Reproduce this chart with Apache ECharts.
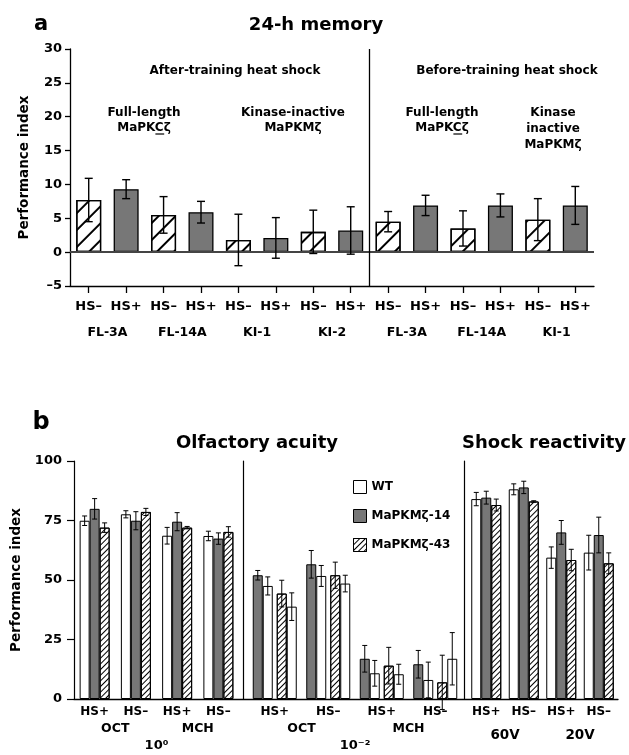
<!DOCTYPE html>
<html><head><meta charset="utf-8">
<script src="https://cdn.jsdelivr.net/npm/echarts/dist/echarts.min.js"></script>
<style>html,body{margin:0;padding:0;background:#fff}#c{width:629px;height:755px}</style>
</head><body><div id="c"></div>
<script>
// ---------- Panel a data ----------
const aConds  = ['HS–','HS+','HS–','HS+','HS–','HS+','HS–','HS+','HS–','HS+','HS–','HS+','HS–','HS+'];
const aGroups = ['FL-3A','FL-14A','KI-1','KI-2','FL-3A','FL-14A','KI-1'];
const aTiming = ['after','after','after','after','before','before','before'];
const aMeans  = [7.7, 9.3, 5.5, 5.9, 1.8, 2.1, 3.0, 3.2, 4.5, 6.9, 3.5, 6.9, 4.8, 6.9];
const aErrs   = [3.2, 1.4, 2.7, 1.6, 3.8, 3.0, 3.2, 3.5, 1.5, 1.5, 2.6, 1.7, 3.1, 2.8];

// ---------- Panel b data ----------
const bSeriesNames = ['WT','MaPKMζ-14','MaPKMζ-43'];
// 10^0 olfactory acuity
const b1Cats  = ['HS+','HS–','HS+','HS–'];
const b1Odors = ['OCT','MCH'];
const b1Conc  = ['10⁰'];
const b1WT    = [74.9, 77.6, 68.6, 68.5];
const b1WTe   = [2.0, 1.5, 3.5, 2.0];
const b1M14   = [79.9, 74.9, 74.5, 67.4];
const b1M14e  = [4.3, 3.8, 3.8, 2.4];
const b1M43   = [72.0, 78.6, 72.0, 70.2];
const b1M43e  = [2.0, 1.5, 0.5, 2.2];
// 10^-2 olfactory acuity (each line paired with its own WT control)
const b2Cats  = ['HS+','HS–','HS+','HS–'];
const b2Odors = ['OCT','MCH'];
const b2Conc  = ['10⁻²'];
const b2M14   = [52.0, 56.6, 16.9, 14.6];
const b2M14e  = [2.0, 5.8, 5.6, 5.8];
const b2WTa   = [47.5, 51.7, 10.8, 8.0];
const b2WTae  = [3.8, 4.4, 5.4, 7.5];
const b2M43   = [44.3, 52.0, 14.0, 7.0];
const b2M43e  = [5.6, 5.5, 7.7, 11.4];
const b2WTb   = [38.8, 48.5, 10.4, 16.9];
const b2WTbe  = [5.8, 3.5, 4.2, 11.0];
// shock reactivity
const b3Cats  = ['HS+','HS–','HS+','HS–'];
const b3Volts = ['60V','20V'];
const b3WT    = [84.0, 88.1, 59.4, 61.5];
const b3WTe   = [2.8, 2.3, 4.5, 7.3];
const b3M14   = [84.6, 88.9, 70.0, 68.9];
const b3M14e  = [2.7, 2.6, 5.0, 7.5];
const b3M43   = [81.5, 83.0, 58.4, 57.0];
const b3M43e  = [2.5, 0.3, 4.5, 4.4];

// ---------- styles ----------
const FONT = 'DejaVu Sans';
const GRAY = '#777777';
const hatchA = {symbol:'rect', symbolSize:1, color:'#000', dashArrayX:[1,0], dashArrayY:[1.4,9.2], rotation:-Math.PI/4};
const hatchB = {symbol:'rect', symbolSize:1, color:'#000', dashArrayX:[1,0], dashArrayY:[0.9,2.7], rotation:-Math.PI/4};
const styA = {
  'HS+': {color:GRAY, borderColor:'#000', borderWidth:1.3},
  'HS–': {color:'#fff', borderColor:'#000', borderWidth:1.3, decal:hatchA}
};
const styWT  = {color:'#fff', borderColor:'#000', borderWidth:1};
const sty14  = {color:GRAY, borderColor:'#000', borderWidth:1};
const sty43  = {color:'#fff', borderColor:'#000', borderWidth:1, decal:hatchB};
const lbl = (size, extra) => Object.assign({fontFamily:FONT, fontWeight:'bold', fontSize:size, color:'#000'}, extra||{});
const BW = 10;

function errSeries(xi, yi, means, errs, offset, cap, lw) {
  return {
    type:'custom', xAxisIndex:xi, yAxisIndex:yi, z:10, silent:true,
    data: means.map((m,i)=>[i, m, errs[i]]),
    renderItem(params, api) {
      const i = api.value(0), m = api.value(1), e = api.value(2);
      const top = api.coord([i, m + e]), bot = api.coord([i, m - e]);
      const x = top[0] + offset;
      const st = {stroke:'#000', lineWidth:lw, fill:null};
      return {type:'group', children:[
        {type:'line', shape:{x1:x, y1:top[1], x2:x, y2:bot[1]}, style:st},
        {type:'line', shape:{x1:x-cap, y1:top[1], x2:x+cap, y2:top[1]}, style:st},
        {type:'line', shape:{x1:x-cap, y1:bot[1], x2:x+cap, y2:bot[1]}, style:st}
      ]};
    }
  };
}
function barSeries(name, xi, yi, data, style, width) {
  return {type:'bar', name, xAxisIndex:xi, yAxisIndex:yi, data, barWidth:width||BW, barGap:'0%',
          itemStyle:style, silent:true, animation:false};
}
function catAxis(grid, data, size, margin, showLine, extra) {
  return Object.assign({
    type:'category', gridIndex:grid, data, position:'bottom',
    axisLine:{show:!!showLine, onZero:false, lineStyle:{color:'#000', width:1.3}},
    axisTick:{show:false}, splitLine:{show:false},
    axisLabel:Object.assign(lbl(size), {margin, interval:0})
  }, extra||{});
}
const hiddenY = (grid) => ({type:'value', gridIndex:grid, min:0, max:100, show:false});
const dividerY = (grid, off) => ({type:'value', gridIndex:grid, min:0, max:100, offset:off,
  axisLine:{show:true, lineStyle:{color:'#000', width:1.2}}, axisTick:{show:false},
  axisLabel:{show:false}, splitLine:{show:false}});

const afterCount = aTiming.filter(t => t === 'after').length * 2;

// measure text for underline
const mctx = document.createElement('canvas').getContext('2d');
mctx.font = 'bold 12px "' + FONT + '"';
function underlineC(cx, y) {
  const full = mctx.measureText('MaPKCζ').width;
  const pre = mctx.measureText('MaPK').width;
  const c = mctx.measureText('C').width;
  const x0 = cx - full/2 + pre;
  return {type:'line', shape:{x1:x0, y1:y, x2:x0 + c, y2:y}, style:{stroke:'#000', lineWidth:1.2}};
}
function txt(x, y, s, size) {
  return {type:'text', x, y, style:{text:s, fontFamily:FONT, fontWeight:'bold', fontSize:size, fill:'#000',
          textAlign:'center', textVerticalAlign:'middle'}};
}

const chart = echarts.init(document.getElementById('c'), null, {renderer:'canvas'});
const option = {
  animation:false,
  backgroundColor:'#fff',
  grid:[
    {left:70, top:49, width:524, height:237, containLabel:false},
    {left:74, top:461, width:544, height:238, containLabel:false},
    {left:74, top:461, width:165, height:238, containLabel:false},
    {left:248, top:461, width:214, height:238, containLabel:false},
    {left:467.5, top:461, width:150, height:238, containLabel:false}
  ],
  xAxis:[
    // 0: panel a conditions
    catAxis(0, aConds, 13, 14, true, {axisTick:{show:true, alignWithLabel:true, length:7, lineStyle:{color:'#000', width:1.3}}}),
    // 1: panel a groups
    catAxis(0, aGroups, 12.5, 40, false),
    // 2: panel a value helper for divider
    {type:'value', gridIndex:0, min:0, max:aConds.length, show:false, position:'top'},
    // 3: panel b frame baseline
    {type:'value', gridIndex:1, min:0, max:1, position:'bottom',
     axisLine:{show:true, onZero:false, lineStyle:{color:'#000', width:1.3}}, axisTick:{show:false},
     axisLabel:{show:false}, splitLine:{show:false}},
    // 4-6: 10^0
    catAxis(2, b1Cats, 12, 7, false),
    catAxis(2, b1Odors, 12.5, 23, false),
    catAxis(2, b1Conc, 13, 40, false),
    // 7-9: 10^-2
    catAxis(3, b2Cats, 12, 7, false),
    catAxis(3, b2Odors, 12.5, 23, false),
    catAxis(3, b2Conc, 13, 40, false),
    // 10-11: shock
    catAxis(4, b3Cats, 12, 7, false),
    catAxis(4, b3Volts, 13.5, 29, false)
  ],
  yAxis:[
    {type:'value', gridIndex:0, min:-5, max:30, interval:5,
     name:'Performance index', nameLocation:'middle', nameGap:39, nameRotate:90,
     nameTextStyle:lbl(13.5),
     axisLine:{show:true, onZero:false, lineStyle:{color:'#000', width:1.3}},
     axisTick:{show:true, length:5, lineStyle:{color:'#000', width:1.3}},
     axisLabel:Object.assign(lbl(13), {margin:8, formatter:v => v < 0 ? '–' + Math.abs(v) : String(v)}),
     splitLine:{show:false}},
    {type:'value', gridIndex:1, min:0, max:100, interval:25,
     name:'Performance index', nameLocation:'middle', nameGap:43, nameRotate:90,
     nameTextStyle:lbl(13.5),
     axisLine:{show:true, onZero:false, lineStyle:{color:'#000', width:1.2}},
     axisTick:{show:true, length:7, lineStyle:{color:'#000', width:1.2}},
     axisLabel:Object.assign(lbl(13), {margin:12}),
     splitLine:{show:false}},
    hiddenY(2),
    dividerY(3, 5),
    dividerY(4, 3.5)
  ],
  legend:{
    orient:'vertical', left:348, top:475, itemWidth:13, itemHeight:13, itemGap:15, icon:'rect',
    data:bSeriesNames, selectedMode:false,
    textStyle:lbl(12), itemStyle:{borderColor:'#000', borderWidth:1}
  },
  series:[
    // panel a bars
    {type:'bar', name:'24-h memory', xAxisIndex:0, yAxisIndex:0, barWidth:25, silent:true,
     data:aMeans.map((v,i)=>({value:v, itemStyle:styA[aConds[i]]})),
     markLine:{silent:true, symbol:'none', label:{show:false}, animation:false,
       lineStyle:{color:'#444', width:2, type:'solid'}, data:[{yAxis:0}]}},
    errSeries(0, 0, aMeans, aErrs, 0, 4, 1.4),
    // panel a divider
    {type:'scatter', name:'divider', xAxisIndex:2, yAxisIndex:0, symbolSize:0, silent:true,
     data:[[afterCount, 0]],
     markLine:{silent:true, symbol:'none', label:{show:false}, animation:false,
       lineStyle:{color:'#000', width:1.3, type:'solid'}, data:[{xAxis:afterCount}]}},
    // panel b, 10^0
    barSeries('WT', 4, 2, b1WT, styWT),
    barSeries('MaPKMζ-14', 4, 2, b1M14, sty14),
    barSeries('MaPKMζ-43', 4, 2, b1M43, sty43),
    errSeries(4, 2, b1WT, b1WTe, -BW, 2.5, 1),
    errSeries(4, 2, b1M14, b1M14e, 0, 2.5, 1),
    errSeries(4, 2, b1M43, b1M43e, BW, 2.5, 1),
    // panel b, 10^-2
    barSeries('MaPKMζ-14', 7, 3, b2M14, sty14),
    barSeries('WT', 7, 3, b2WTa, styWT),
    barSeries('gap', 7, 3, b2M14.map(()=>'-'), styWT, 4),
    barSeries('MaPKMζ-43', 7, 3, b2M43, sty43),
    barSeries('WT', 7, 3, b2WTb, styWT),
    errSeries(7, 3, b2M14, b2M14e, -2*BW + 3, 2.5, 1),
    errSeries(7, 3, b2WTa, b2WTae, -BW + 3, 2.5, 1),
    errSeries(7, 3, b2M43, b2M43e, BW - 3, 2.5, 1),
    errSeries(7, 3, b2WTb, b2WTbe, 2*BW - 3, 2.5, 1),
    // panel b, shock
    barSeries('WT', 10, 4, b3WT, styWT),
    barSeries('MaPKMζ-14', 10, 4, b3M14, sty14),
    barSeries('MaPKMζ-43', 10, 4, b3M43, sty43),
    errSeries(10, 4, b3WT, b3WTe, -BW, 2.5, 1),
    errSeries(10, 4, b3M14, b3M14e, 0, 2.5, 1),
    errSeries(10, 4, b3M43, b3M43e, BW, 2.5, 1)
  ],
  graphic:[
    txt(41, 25, 'a', 21),
    txt(316, 25, '24-h memory', 18),
    txt(235, 71, 'After-training heat shock', 12),
    txt(507, 71, 'Before-training heat shock', 12),
    txt(144, 113, 'Full-length', 12), txt(144, 128, 'MaPKCζ', 12), underlineC(144, 134),
    txt(293, 113, 'Kinase-inactive', 12), txt(293, 128, 'MaPKMζ', 12),
    txt(442, 113, 'Full-length', 12), txt(442, 128, 'MaPKCζ', 12), underlineC(442, 134),
    txt(553, 113, 'Kinase', 12), txt(553, 129, 'inactive', 12), txt(553, 145, 'MaPKMζ', 12),
    txt(41, 423, 'b', 24),
    txt(257, 443, 'Olfactory acuity', 18),
    txt(544, 443, 'Shock reactivity', 18)
  ]
};
chart.setOption(option);
</script>
</body></html>
